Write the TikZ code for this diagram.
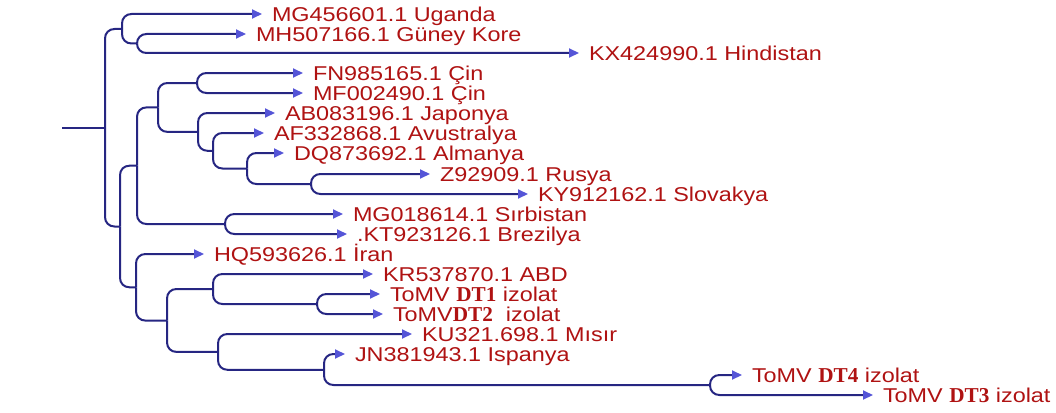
\documentclass[tikz,border=0pt]{standalone}
\usepackage{fontspec}
\setmainfont{Liberation Sans}[FakeStretch=1.17]
\newfontfamily\dtfont{Liberation Serif}[Scale=1.06]
\usetikzlibrary{arrows.meta,calc}
\definecolor{treeblue}{RGB}{38,38,130}
\definecolor{tipblue}{RGB}{85,85,215}
\definecolor{labred}{RGB}{175,18,18}
\newcommand{\dt}[1]{{\dtfont\bfseries #1}}

\begin{document}
\begin{tikzpicture}[x=1pt, y=-1pt,
  br/.style={draw=treeblue, line width=2pt, line join=round,
    to path={-- ($(\tikztostart|-\tikztotarget)!9.5pt!(\tikztostart)$)
      .. controls ($(\tikztostart|-\tikztotarget)!4pt!(\tikztostart)$)
      and ($(\tikztostart|-\tikztotarget)!4pt!(\tikztotarget)$)
      .. ($(\tikztostart|-\tikztotarget)!9.5pt!(\tikztotarget)$)
      -- (\tikztotarget)}},
  leafarr/.style={br, -{Triangle[length=10pt, width=9pt, color=tipblue]}},
  leaf/.style={anchor=west, inner xsep=10pt, inner ysep=0pt, outer sep=0pt,
               text height=14.3pt, text depth=0pt, text=labred,
               font=\fontsize{20}{22}\selectfont},
]
\useasboundingbox (0,0) rectangle (1056,412);

% leaves
\node[leaf] (uga) at (262, 14)  {MG456601.1 Uganda};
\node[leaf] (kor) at (246, 34)  {MH507166.1 Güney Kore};
\node[leaf] (hin) at (579, 53)  {KX424990.1 Hindistan};
\node[leaf] (cin1) at (303, 73) {FN985165.1 Çin};
\node[leaf] (cin2) at (303, 93) {MF002490.1 Çin};
\node[leaf] (jap) at (275, 113) {AB083196.1 Japonya};
\node[leaf] (avu) at (264, 133) {AF332868.1 Avustralya};
\node[leaf] (alm) at (284, 153) {DQ873692.1 Almanya};
\node[leaf] (rus) at (430, 174) {Z92909.1 Rusya};
\node[leaf] (slo) at (528, 194) {KY912162.1 Slovakya};
\node[leaf] (sir) at (343, 214) {MG018614.1 Sırbistan};
\node[leaf] (bre) at (347, 234) {.KT923126.1 Brezilya};
\node[leaf] (ira) at (204, 254) {HQ593626.1 İran};
\node[leaf] (abd) at (373, 274) {KR537870.1 ABD};
\node[leaf] (dt1) at (380, 294) {ToMV \dt{DT1} izolat};
\node[leaf] (dt2) at (383, 314) {ToMV\dt{DT2}~ izolat};
\node[leaf] (mis) at (412, 334) {KU321.698.1 Mısır};
\node[leaf] (isp) at (345, 354) {JN381943.1 Ispanya};
\node[leaf] (dt4) at (742, 375) {ToMV \dt{DT4} izolat};
\node[leaf] (dt3) at (873, 395) {ToMV \dt{DT3} izolat};

% inner nodes
\coordinate (base) at (62, 128);
\coordinate (root) at (105, 128);
\coordinate (cA) at (122, 29);
\coordinate (cR) at (137, 43.5);
\coordinate (cB) at (120, 226.5);
\coordinate (cC) at (137, 165.7);
\coordinate (cE) at (158, 107.4);
\coordinate (cG) at (197, 83);
\coordinate (cH) at (198, 131.9);
\coordinate (cI) at (213, 150.8);
\coordinate (cJ) at (247, 168.5);
\coordinate (cK) at (311, 184);
\coordinate (cF) at (225, 224);
\coordinate (cD) at (136, 287.3);
\coordinate (cL) at (167, 320.6);
\coordinate (cM) at (213, 289);
\coordinate (cO) at (317, 304);
\coordinate (cN) at (218, 351.9);
\coordinate (cP) at (324, 369.8);
\coordinate (cQ) at (710, 385);

\draw[br] (base) -- (root);
\draw[br] (root) to (cA);
\draw[br] (root) to (cB);
\draw[leafarr] (cA) to (uga.west);
\draw[br] (cA) to (cR);
\draw[leafarr] (cR) to (kor.west);
\draw[leafarr] (cR) to (hin.west);
\draw[br] (cB) to (cC);
\draw[br] (cB) to (cD);
\draw[br] (cC) to (cE);
\draw[br] (cC) to (cF);
\draw[br] (cE) to (cG);
\draw[br] (cE) to (cH);
\draw[leafarr] (cG) to (cin1.west);
\draw[leafarr] (cG) to (cin2.west);
\draw[leafarr] (cH) to (jap.west);
\draw[br] (cH) to (cI);
\draw[leafarr] (cI) to (avu.west);
\draw[br] (cI) to (cJ);
\draw[leafarr] (cJ) to (alm.west);
\draw[br] (cJ) to (cK);
\draw[leafarr] (cK) to (rus.west);
\draw[leafarr] (cK) to (slo.west);
\draw[leafarr] (cF) to (sir.west);
\draw[leafarr] (cF) to (bre.west);
\draw[leafarr] (cD) to (ira.west);
\draw[br] (cD) to (cL);
\draw[br] (cL) to (cM);
\draw[br] (cL) to (cN);
\draw[leafarr] (cM) to (abd.west);
\draw[br] (cM) to (cO);
\draw[leafarr] (cO) to (dt1.west);
\draw[leafarr] (cO) to (dt2.west);
\draw[leafarr] (cN) to (mis.west);
\draw[br] (cN) to (cP);
\draw[leafarr] (cP) to (isp.west);
\draw[br] (cP) to (cQ);
\draw[leafarr] (cQ) to (dt4.west);
\draw[leafarr] (cQ) to (dt3.west);
\end{tikzpicture}
\end{document}
